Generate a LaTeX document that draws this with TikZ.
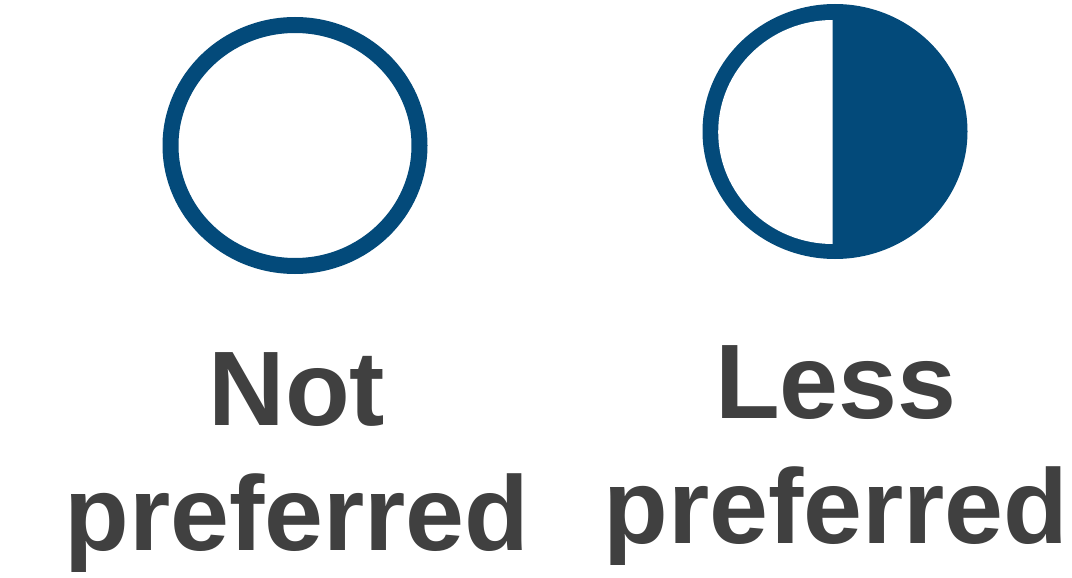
\documentclass[tikz,border=0pt]{standalone}
\usepackage{fontspec}
\setmainfont{Liberation Sans}
\definecolor{prefblue}{HTML}{034A7A}
\definecolor{labelgray}{HTML}{404040}
\tikzset{
  ring/.style={line width=16pt, draw=prefblue},
  caption/.style={font=\fontsize{106}{125}\selectfont\bfseries, text=labelgray, align=center, inner sep=0pt},
}
\begin{document}
\begin{tikzpicture}[x=1pt, y=-1pt]
\useasboundingbox (0,0) rectangle (1072,578);
% not preferred: open circle
\draw[ring] (295,145.5) ellipse [x radius=124.5, y radius=120.5];
% less preferred: half filled circle
\fill[prefblue] (835,131.5) ellipse [x radius=132.5, y radius=127.5];
\fill[white] (832.7,20) arc [start angle=270, end angle=90, x radius=114.5, y radius=112] -- cycle;
% labels (base = last line)
\node[caption, anchor=base] (notpref) at (297,550) {Not\\preferred};
\node[caption, anchor=base] (lesspref) at (836,543) {Less\\preferred};
\end{tikzpicture}
\end{document}
